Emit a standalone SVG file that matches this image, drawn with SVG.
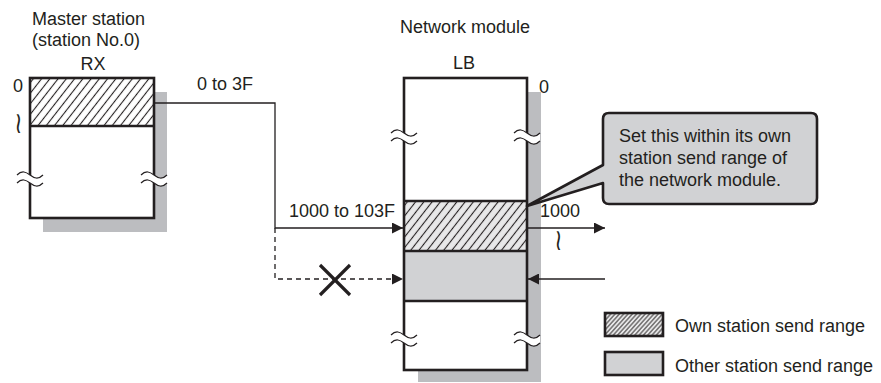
<svg xmlns="http://www.w3.org/2000/svg" width="881" height="383" viewBox="0 0 881 383">
<style>
text{font-family:"Liberation Sans",Arial,sans-serif;font-size:18px;fill:#231f20}
.sym{font-family:"DejaVu Sans",sans-serif;font-size:30px}
.box{fill:none;stroke:#231f20;stroke-width:2.6}
.shadow{fill:#bcbdc0}
.gray{fill:#d1d2d4}
.ln{fill:none;stroke:#231f20;stroke-width:1.3}
.dash{fill:none;stroke:#231f20;stroke-width:1.3;stroke-dasharray:5 4}
.wave{fill:none;stroke:#231f20;stroke-width:1.2}
.gap{fill:#fff}
</style>
<defs>
<pattern id="hatch" width="6.5" height="6.5" patternUnits="userSpaceOnUse" patternTransform="rotate(38)">
<line x1="3.25" y1="0" x2="3.25" y2="6.5" stroke="#231f20" stroke-width="1.1"/>
</pattern>
<pattern id="hatchFine" width="3.2" height="3.2" patternUnits="userSpaceOnUse" patternTransform="rotate(42)">
<line x1="1.6" y1="0" x2="1.6" y2="3.2" stroke="#231f20" stroke-width="0.9"/>
</pattern>
<marker id="arr" markerWidth="11" markerHeight="11" refX="11" refY="5.5" orient="auto" markerUnits="userSpaceOnUse">
<path d="M0,0 L11,5.5 L0,11 Z" fill="#231f20"/>
</marker>
<g id="brk">
<path class="gap" d="M-13,-4 C-8,-9 -4,-7 0,-4 S8,1 13,-4 L13,4 C8,9 4,7 0,4 S-8,-1 -13,4 Z"/>
<path class="wave" d="M-13,-4 C-8,-9 -4,-7 0,-4 S8,1 13,-4"/>
<path class="wave" d="M-13,4 C-8,-1 -4,1 0,4 S8,9 13,4"/>
</g>
</defs>
<rect width="881" height="383" fill="#fff"/>

<g id="labels">
<text x="32" y="25">Master station</text>
<text x="32" y="46">(station No.0)</text>
<text x="93" y="70" text-anchor="middle">RX</text>
<text x="465" y="33" text-anchor="middle">Network module</text>
<text x="464" y="69" text-anchor="middle">LB</text>
</g>

<g id="rx-memory">
<rect class="shadow" x="43" y="92" width="124" height="140"/>
<rect x="30" y="78" width="124" height="140" fill="#fff"/>
<rect x="30" y="78" width="124" height="48" fill="url(#hatch)"/>
<line class="box" x1="30" y1="126" x2="154" y2="126"/>
<rect class="box" x="30" y="78" width="124" height="140"/>
<use href="#brk" x="30" y="179"/>
<use href="#brk" x="154" y="179"/>
<text x="13" y="92">0</text>
<text class="sym" text-anchor="middle" transform="translate(18.5,133) scale(0.7,1)">≀</text>
</g>

<g id="lb-memory">
<rect class="shadow" x="418" y="92" width="123" height="290"/>
<rect x="404" y="78" width="123" height="292" fill="#fff"/>
<rect x="404" y="201" width="123" height="50" fill="#e8e8e9"/>
<rect x="404" y="201" width="123" height="50" fill="url(#hatch)"/>
<rect class="gray" x="404" y="251" width="123" height="50"/>
<line class="box" x1="404" y1="201" x2="527" y2="201"/>
<line class="box" x1="404" y1="251" x2="527" y2="251"/>
<line class="box" x1="404" y1="301" x2="527" y2="301"/>
<rect class="box" x="404" y="78" width="123" height="292"/>
<use href="#brk" x="404" y="137"/>
<use href="#brk" x="527" y="137"/>
<use href="#brk" x="404" y="339"/>
<use href="#brk" x="527" y="339"/>
<text x="539" y="93">0</text>
<text x="540" y="217">1000</text>
<text class="sym" text-anchor="middle" transform="translate(558.5,250) scale(0.7,1)">≀</text>
</g>

<g id="callout">
<path d="M609,113 H811 Q817,113 817,119 V198 Q817,204 811,204 H609 Q603,204 603,198 V183 L527,206 L603,165 V119 Q603,113 609,113 Z" fill="#d1d2d4" stroke="#231f20" stroke-width="2.6" stroke-linejoin="round"/>
<text x="619" y="142">Set this within its own</text>
<text x="619" y="164">station send range of</text>
<text x="619" y="186">the network module.</text>
</g>

<g id="connectors">
<polyline class="ln" points="154,103 275,103 275,228 403,228" marker-end="url(#arr)"/>
<polyline class="dash" points="275,228 275,279 403,279" marker-end="url(#arr)"/>
<line class="ln" x1="528" y1="228" x2="605" y2="228" marker-end="url(#arr)"/>
<line class="ln" x1="605" y1="279" x2="528" y2="279" marker-end="url(#arr)"/>
<text x="197" y="90">0 to 3F</text>
<text x="289" y="217">1000 to 103F</text>
<g id="cross">
<line x1="320" y1="265" x2="350" y2="295" stroke="#231f20" stroke-width="3.2"/>
<line x1="350" y1="265" x2="320" y2="295" stroke="#231f20" stroke-width="3.2"/>
</g>
</g>

<g id="legend">
<g id="legend-own">
<rect x="605" y="313" width="58" height="23" fill="#e8e8e9"/>
<rect x="605" y="313" width="58" height="23" fill="url(#hatchFine)"/>
<rect class="box" x="605" y="313" width="58" height="23"/>
<text x="675" y="332">Own station send range</text>
</g>
<g id="legend-other">
<rect class="box gray" x="605" y="352" width="58" height="23" style="stroke:#231f20;stroke-width:2.6"/>
<text x="675" y="372">Other station send range</text>
</g>
</g>
</svg>
